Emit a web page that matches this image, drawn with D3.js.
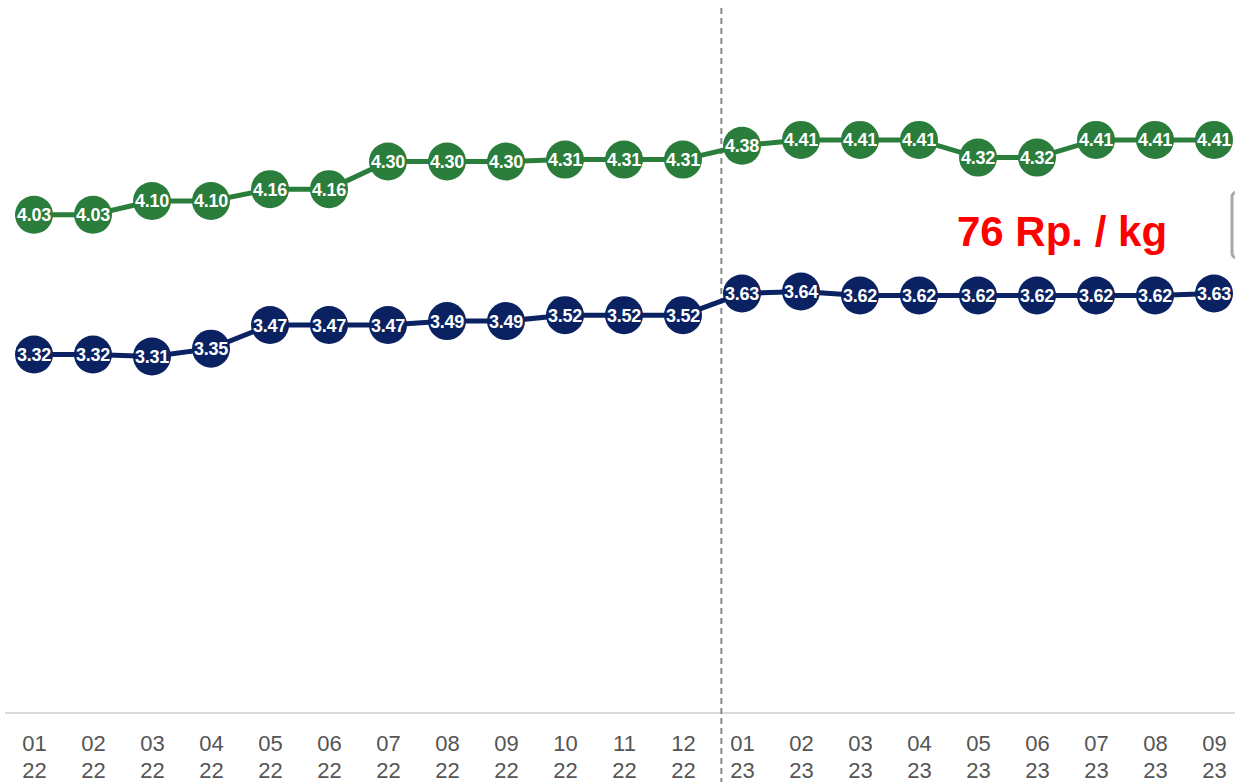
<!DOCTYPE html>
<html>
<head>
<meta charset="utf-8">
<script src="https://cdn.jsdelivr.net/npm/d3@7"></script>
<style>
  html, body { margin: 0; padding: 0; background: #fff; overflow: hidden; }
  svg { display: block; font-family: "Liberation Sans", Arial, sans-serif; }
</style>
</head>
<body>
<svg id="chart" width="1235" height="782"></svg>
<script>
// month / year labels for the x axis
const months = ["01", "02", "03", "04", "05", "06", "07", "08", "09", "10", "11", "12",
  "01", "02", "03", "04", "05", "06", "07", "08", "09"];
const years = ["22", "22", "22", "22", "22", "22", "22", "22", "22", "22", "22", "22",
  "23", "23", "23", "23", "23", "23", "23", "23", "23"];

// green (upper) series
const upperValues = [4.03, 4.03, 4.10, 4.10, 4.16, 4.16, 4.30, 4.30, 4.30, 4.31, 4.31, 4.31,
  4.38, 4.41, 4.41, 4.41, 4.32, 4.32, 4.41, 4.41, 4.41];
// navy (lower) series
const lowerValues = [3.32, 3.32, 3.31, 3.35, 3.47, 3.47, 3.47, 3.49, 3.49, 3.52, 3.52, 3.52,
  3.63, 3.64, 3.62, 3.62, 3.62, 3.62, 3.62, 3.62, 3.63];

const annotation = "76 Rp. / kg";

const svg = d3.select("#chart");
const width = 1235;
const axisY = 713;

const keys = months.map((m, i) => i);
const x = d3.scalePoint().domain(keys).range([34, 1214]);
const y = d3.scaleLinear().domain([1.5, 5.1]).range([axisY, 4]);

// x axis, ticks hidden, two-line labels
const axis = svg.append("g")
  .attr("transform", `translate(0, ${axisY})`)
  .call(d3.axisBottom(x).tickSize(0).tickFormat(() => ""));
axis.select(".domain").remove();
axis.append("line")
  .attr("x1", 5).attr("x2", width)
  .attr("stroke", "#d9d9d9").attr("stroke-width", 2);
axis.selectAll(".tick text").remove();
axis.selectAll(".tick").each(function (d) {
  const t = d3.select(this).append("text")
    .attr("fill", "#555")
    .attr("font-size", 22)
    .attr("text-anchor", "middle");
  t.append("tspan").attr("x", 0).attr("y", 38).text(months[d]);
  t.append("tspan").attr("x", 0).attr("y", 65).text(years[d]);
});

// year separator, drawn just before the first month of 2023
const sep = x(11) + x.step() * 0.65;
svg.append("line")
  .attr("x1", sep).attr("x2", sep)
  .attr("y1", 8).attr("y2", 782)
  .attr("stroke", "#8a8a8a")
  .attr("stroke-width", 2)
  .attr("stroke-dasharray", "6,4");

// annotation and clipped box at the right edge
svg.append("text")
  .attr("x", 1062).attr("y", 246)
  .attr("text-anchor", "middle")
  .attr("font-size", 42)
  .attr("font-weight", "bold")
  .attr("fill", "#ff0000")
  .text(annotation);
svg.append("rect")
  .attr("x", 1232).attr("y", 192)
  .attr("width", 20).attr("height", 66)
  .attr("rx", 5)
  .attr("fill", "#fff")
  .attr("stroke", "#a8a8a8")
  .attr("stroke-width", 3);

function drawSeries(values, color) {
  const g = svg.append("g");
  g.append("path")
    .datum(values)
    .attr("fill", "none")
    .attr("stroke", color)
    .attr("stroke-width", 5)
    .attr("d", d3.line().x((d, i) => x(i)).y(d => y(d)));
  const pts = g.selectAll("g.pt")
    .data(values)
    .join("g")
    .attr("class", "pt")
    .attr("transform", (d, i) => `translate(${x(i)}, ${y(d)})`);
  pts.append("circle").attr("r", 19).attr("fill", color);
  pts.append("text")
    .attr("text-anchor", "middle")
    .attr("dy", "0.36em")
    .attr("fill", "#fff")
    .attr("font-size", 18)
    .attr("font-weight", "bold")
    .attr("letter-spacing", -0.3)
    .text(d => d.toFixed(2));
}

drawSeries(upperValues, "#2a7d3a");
drawSeries(lowerValues, "#0b2262");
</script>
</body>
</html>
